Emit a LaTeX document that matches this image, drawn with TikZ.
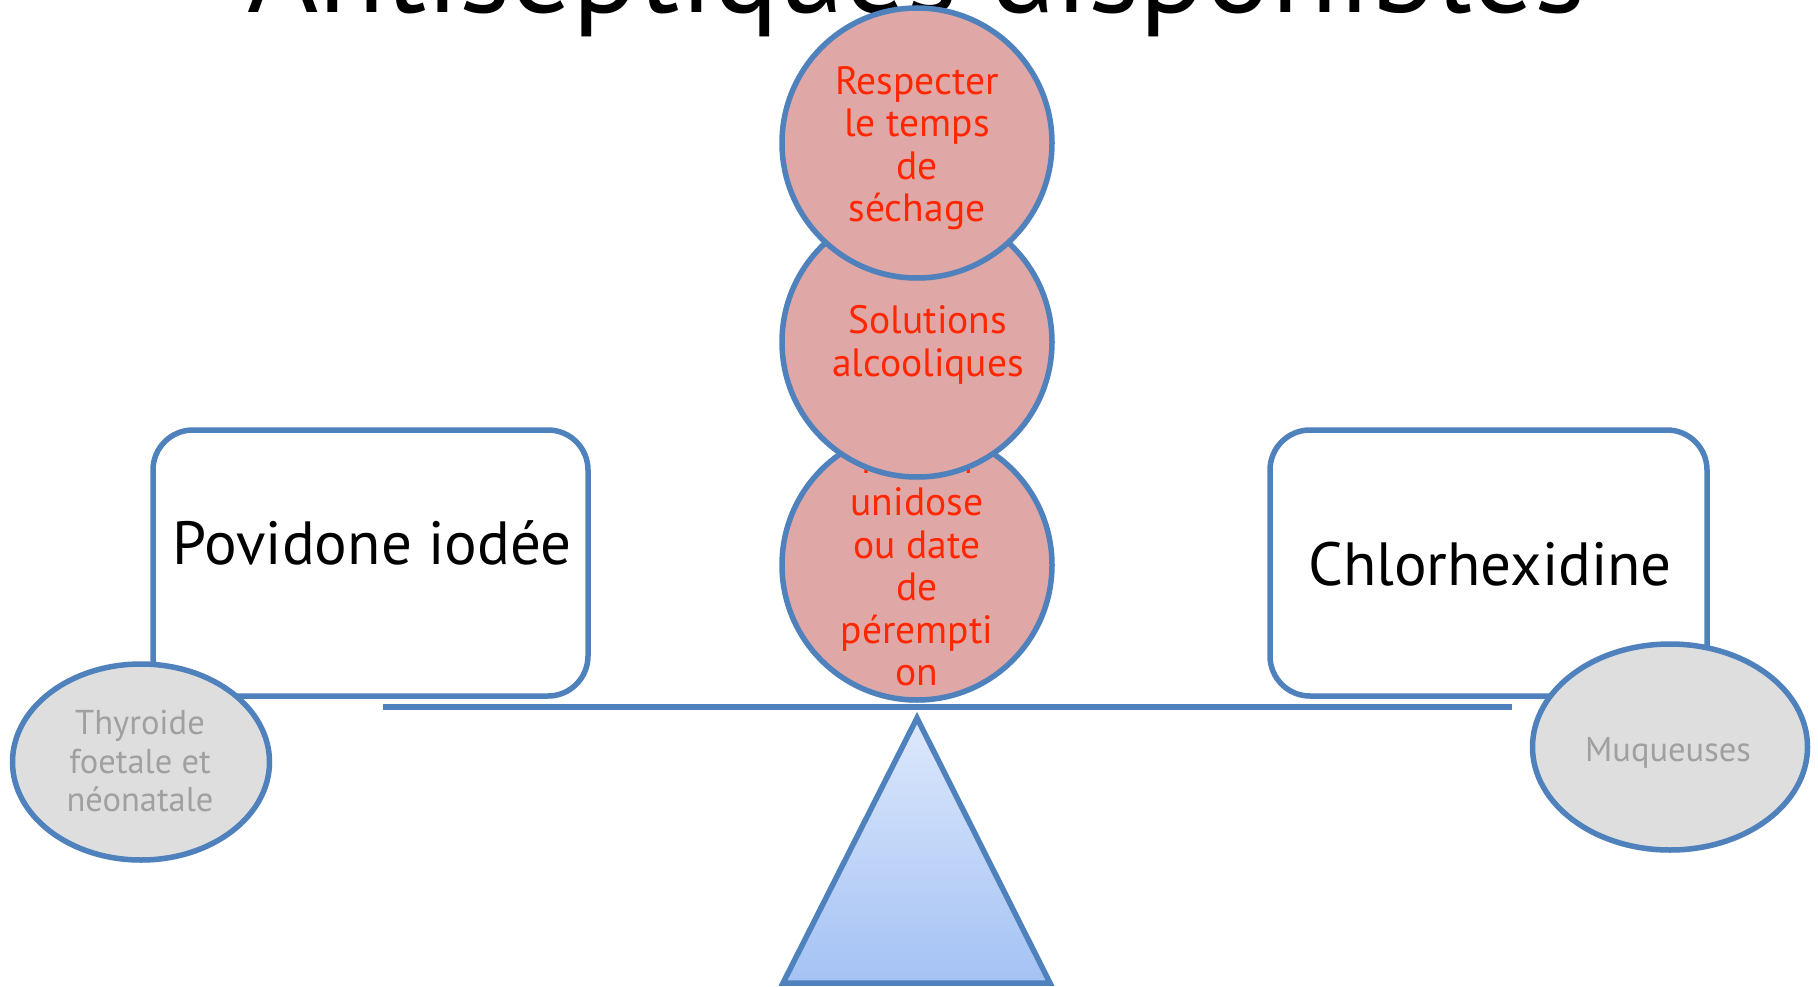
\documentclass[tikz,border=0pt]{standalone}
\usepackage{fontspec}
\setmainfont{PT Sans}
\usetikzlibrary{shapes.geometric,shadows}
\definecolor{bstroke}{RGB}{79,129,189}
\definecolor{pinkfill}{RGB}{223,167,166}
\definecolor{redtext}{RGB}{255,38,0}
\definecolor{grayfill}{RGB}{222,222,222}
\definecolor{graytext}{RGB}{160,160,160}
\definecolor{tritop}{RGB}{221,232,252}
\definecolor{tribot}{RGB}{164,194,244}
\tikzset{
  shd/.style={drop shadow={shadow xshift=0pt,shadow yshift=-3pt,opacity=0.18}},
  pan/.style={draw=bstroke,line width=5.5pt,fill=white,rounded corners=40pt,shd},
  weight/.style={circle,draw=bstroke,line width=5.5pt,fill=pinkfill,inner sep=0pt,minimum size=270pt,shd},
  redlbl/.style={text=redtext,align=center,font=\fontsize{39.5}{42.5}\selectfont,inner sep=0pt},
  graybub/.style={ellipse,draw=bstroke,line width=5.5pt,fill=grayfill,inner sep=0pt,shd},
  graylbl/.style={text=graytext,align=center,font=\fontsize{34.5}{38.5}\selectfont,inner sep=0pt},
  panlbl/.style={text=black,font=\fontsize{61}{64}\selectfont,inner sep=0pt},
}
\begin{document}
\begin{tikzpicture}[x=1pt,y=-1pt]
\useasboundingbox (0,0) rectangle (1818,987);
\begin{scope}
\clip (0,0) rectangle (1818,987);
% title (cut off at top, as in the reference)
\node[anchor=base,inner sep=0pt,font=\fontsize{122}{122}\selectfont] (title) at (916.5,13) {Antiseptiques disponibles};
% pans
\draw[pan] (153,430) rectangle (588,696);
\node[panlbl,anchor=base] (povi) at (372,564) {Povidone iodée};
\draw[pan] (1270,430) rectangle (1707,696);
\node[panlbl,anchor=base] (chlo) at (1490,585) {Chlorhexidine};
% beam
\coordinate (beamL) at (383,707);
\coordinate (beamR) at (1512,707);
\draw[bstroke,line width=6pt,shd] (beamL) -- (beamR);
% fulcrum
\coordinate (apex) at (917,718);
\coordinate (baseR) at (1050,983);
\coordinate (baseL) at (783,983);
\draw[bstroke,line width=5.5pt,line join=miter,top color=tritop,bottom color=tribot] (apex) -- (baseR) -- (baseL) -- cycle;
% weights
\node[weight] (w3) at (917,565) {};
\node[redlbl] (w3t) at (917,566) {Flacon\\unidose\\ou date\\de\\pérempti\\on};
\node[weight] (w2) at (917,342) {};
\node[redlbl] (w2t) at (928,345) {Solutions\\alcooliques};
\node[weight] (w1) at (917,143) {};
\node[redlbl] (w1t) at (917,148) {Respecter\\le temps\\de\\séchage};
% gray bubbles
\node[graybub,minimum width=257pt,minimum height=196pt] (thy) at (141,762) {};
\node[graylbl] (thyt) at (140,761) {Thyroide\\foetale et\\néonatale};
\node[graybub,minimum width=275pt,minimum height=206pt] (muq) at (1670,747) {};
\node[graylbl] (muqt) at (1668,753) {Muqueuses};
\end{scope}
\end{tikzpicture}
\end{document}
